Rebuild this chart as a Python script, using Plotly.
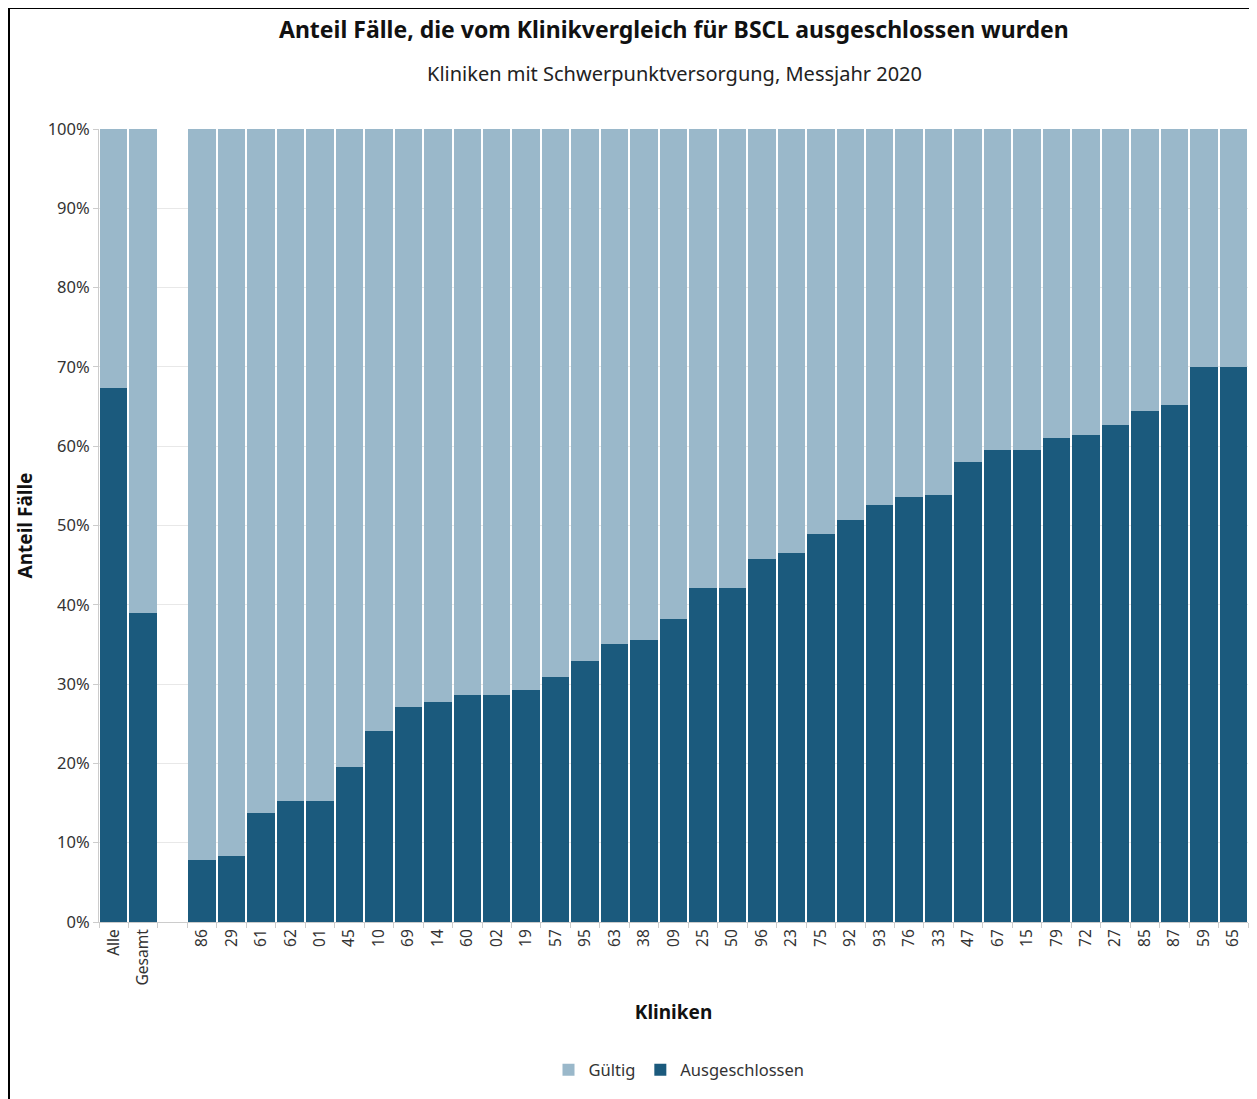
import plotly.graph_objects as go

# Kategorien (Leerspalte zwischen Gesamt und Kliniken)
kliniken = ["Alle", "Gesamt", " ",
            "86", "29", "61", "62", "01", "45", "10", "69", "14", "60", "02", "19",
            "57", "95", "63", "38", "09", "25", "50", "96", "23", "75", "92", "93",
            "76", "33", "47", "67", "15", "79", "72", "27", "85", "87", "59", "65"]

# Anteil ausgeschlossener Fälle in %
ausgeschlossen = [67.3, 39.0, None,
                  7.8, 8.3, 13.7, 15.3, 15.3, 19.5, 24.1, 27.1, 27.7, 28.6, 28.6, 29.3,
                  30.9, 32.9, 35.1, 35.6, 38.2, 42.1, 42.1, 45.8, 46.5, 48.9, 50.7, 52.6,
                  53.6, 53.8, 58.0, 59.5, 59.5, 61.0, 61.4, 62.7, 64.4, 65.2, 70.0, 70.0]

gueltig = [None if v is None else round(100 - v, 1) for v in ausgeschlossen]

y_ticks = [0, 10, 20, 30, 40, 50, 60, 70, 80, 90, 100]
y_labels = [f"{v}%" for v in y_ticks]

DARK = "#1b5a7d"
LIGHT = "#9ab8ca"
FONT = "Noto Sans"

# Seite hat 8px Rand; Positionen unten in Bildschirm-Pixeln
OFF = 8
W, H = 1257, 1099
L, T = 99 - OFF, 129 - OFF
R = W - (1248 - OFF)
B = H - (922 - OFF)
pw, ph = W - L - R, H - T - B


def px_x(x):
    return (x - OFF - L) / pw


def px_y(y):
    return (H - B - (y - OFF)) / ph


fig = go.Figure()
fig.add_trace(go.Bar(x=kliniken, y=ausgeschlossen, name="Ausgeschlossen",
                     marker=dict(color=DARK, line=dict(width=0))))
fig.add_trace(go.Bar(x=kliniken, y=gueltig, name="Gültig",
                     marker=dict(color=LIGHT, line=dict(width=0))))

fig.update_layout(
    width=W, height=H,
    margin=dict(l=L, r=R, t=T, b=B),
    barmode="stack", bargap=0.07,
    plot_bgcolor="white", paper_bgcolor="white",
    font=dict(family=FONT, size=15, color="#333333"),
    showlegend=True,
    legend=dict(orientation="h", traceorder="reversed", x=px_x(679), xanchor="center",
                y=px_y(1070), yanchor="middle", font=dict(size=16.5, color="#333333"),
                itemwidth=30),
)

fig.update_xaxes(
    type="category", categoryorder="array", categoryarray=kliniken,
    tickangle=-90, ticks="outside", ticklen=5, tickcolor="#cccccc", tickson="boundaries",
    showline=True, linecolor="#cccccc", linewidth=1,
    tickfont=dict(size=15.5, color="#333333"),
    title=dict(text="<b>Kliniken</b>", font=dict(size=19, color="#111111"), standoff=21),
)
fig.update_yaxes(
    range=[0, 100], tickvals=y_ticks, ticktext=y_labels,
    ticks="outside", ticklen=5, tickcolor="#cccccc",
    showline=True, linecolor="#cccccc", linewidth=1,
    showgrid=True, gridcolor="#e8e8e8", zeroline=False,
    tickfont=dict(size=16.5, color="#333333"),
    title=dict(text="<b>Anteil Fälle</b>", font=dict(size=19, color="#111111"), standoff=10),
)

fig.add_annotation(text="<b>Anteil Fälle, die vom Klinikvergleich für BSCL ausgeschlossen wurden</b>",
                   xref="paper", yref="paper", x=px_x(674), y=px_y(29),
                   xanchor="center", yanchor="middle", showarrow=False,
                   font=dict(size=23, color="#111111", family=FONT))
fig.add_annotation(text="Kliniken mit Schwerpunktversorgung, Messjahr 2020",
                   xref="paper", yref="paper", x=px_x(674), y=px_y(73),
                   xanchor="center", yanchor="middle", showarrow=False,
                   font=dict(size=20, color="#222222", family=FONT))

# Rahmen oben und links
fig.add_shape(type="line", xref="paper", yref="paper",
              x0=px_x(9), y0=px_y(8), x1=px_x(W + 20), y1=px_y(8),
              line=dict(color="black", width=2))
fig.add_shape(type="line", xref="paper", yref="paper",
              x0=px_x(9), y0=px_y(8), x1=px_x(9), y1=px_y(H + 20),
              line=dict(color="black", width=2))

fig.write_html("out.html")
